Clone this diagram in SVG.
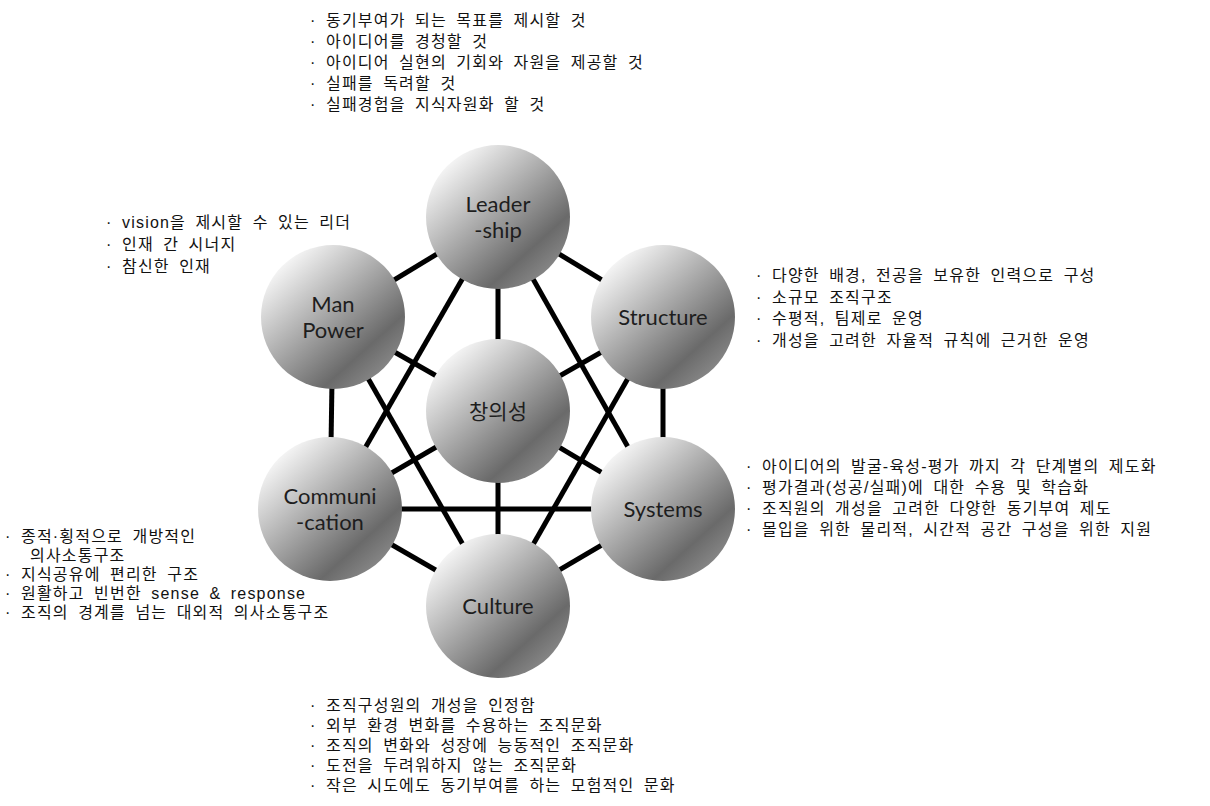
<svg xmlns="http://www.w3.org/2000/svg" width="1210" height="806" viewBox="0 0 1210 806">
<defs>
<linearGradient id="ball" x1="0.12" y1="0.08" x2="0.88" y2="0.92">
<stop offset="0" stop-color="#ffffff"/>
<stop offset="0.45" stop-color="#a9a9a9"/>
<stop offset="0.78" stop-color="#6a6a6a"/>
<stop offset="1" stop-color="#8e8e8e"/>
</linearGradient>
<style>
.ball{fill:url(#ball);}
.lbl{font-family:Lato,"Liberation Sans","Noto Sans CJK KR",sans-serif;font-size:22px;fill:#1e1e1e;text-anchor:middle;}
.klbl{font-family:"Liberation Sans","Noto Sans CJK KR",sans-serif;font-size:21px;fill:#1e1e1e;text-anchor:middle;}
.note{font-family:"Liberation Sans","Noto Sans CJK KR",sans-serif;font-size:16px;fill:#111;letter-spacing:1.2px;word-spacing:3.8px;}
.edge{stroke:#000;stroke-width:5;fill:none;}
</style>
</defs>
<rect width="1210" height="806" fill="#fff"/>
<g id="connectors" class="edge">
<line x1="498" y1="217" x2="333" y2="317"/>
<line x1="498" y1="217" x2="663" y2="317"/>
<line x1="498" y1="217" x2="498" y2="411"/>
<line x1="498" y1="217" x2="330" y2="509"/>
<line x1="498" y1="217" x2="663" y2="509"/>
<line x1="333" y1="317" x2="330" y2="509"/>
<line x1="333" y1="317" x2="498" y2="411"/>
<line x1="333" y1="317" x2="498" y2="606"/>
<line x1="663" y1="317" x2="663" y2="509"/>
<line x1="663" y1="317" x2="498" y2="411"/>
<line x1="663" y1="317" x2="498" y2="606"/>
<line x1="330" y1="509" x2="498" y2="411"/>
<line x1="663" y1="509" x2="498" y2="411"/>
<line x1="498" y1="606" x2="498" y2="411"/>
<line x1="330" y1="509" x2="663" y2="509"/>
<line x1="330" y1="509" x2="498" y2="606"/>
<line x1="663" y1="509" x2="498" y2="606"/>
</g>
<g id="leadership">
<circle class="ball" cx="498" cy="217" r="72"/>
<text class="lbl" x="498" y="212">Leader</text>
<text class="lbl" x="498" y="238">-ship</text>
</g>
<g id="manpower">
<circle class="ball" cx="333" cy="317" r="72"/>
<text class="lbl" x="333" y="312">Man</text>
<text class="lbl" x="333" y="338">Power</text>
</g>
<g id="structure">
<circle class="ball" cx="663" cy="317" r="72"/>
<text class="lbl" x="663" y="325">Structure</text>
</g>
<g id="creativity">
<circle class="ball" cx="498" cy="411" r="72"/>
<text class="klbl" x="498" y="419">창의성</text>
</g>
<g id="communication">
<circle class="ball" cx="330" cy="509" r="72"/>
<text class="lbl" x="330" y="504">Communi</text>
<text class="lbl" x="330" y="530">-cation</text>
</g>
<g id="systems">
<circle class="ball" cx="663" cy="509" r="72"/>
<text class="lbl" x="663" y="517">Systems</text>
</g>
<g id="culture">
<circle class="ball" cx="498" cy="606" r="72"/>
<text class="lbl" x="498" y="614">Culture</text>
</g>
<g id="note-leadership" class="note">
<text x="310" y="26">· 동기부여가 되는 목표를 제시할 것</text>
<text x="310" y="47">· 아이디어를 경청할 것</text>
<text x="310" y="68">· 아이디어 실현의 기회와 자원을 제공할 것</text>
<text x="310" y="89">· 실패를 독려할 것</text>
<text x="310" y="110">· 실패경험을 지식자원화 할 것</text>
</g>
<g id="note-manpower" class="note">
<text x="106" y="228">· vision을 제시할 수 있는 리더</text>
<text x="106" y="250">· 인재 간 시너지</text>
<text x="106" y="272">· 참신한 인재</text>
</g>
<g id="note-structure" class="note">
<text x="756" y="281">· 다양한 배경, 전공을 보유한 인력으로 구성</text>
<text x="756" y="303">· 소규모 조직구조</text>
<text x="756" y="324">· 수평적, 팀제로 운영</text>
<text x="756" y="346">· 개성을 고려한 자율적 규칙에 근거한 운영</text>
</g>
<g id="note-systems" class="note">
<text x="746" y="472">· 아이디어의 발굴-육성-평가 까지 각 단계별의 제도화</text>
<text x="746" y="493">· 평가결과(성공/실패)에 대한 수용 및 학습화</text>
<text x="746" y="514">· 조직원의 개성을 고려한 다양한 동기부여 제도</text>
<text x="746" y="535">· 몰입을 위한 물리적, 시간적 공간 구성을 위한 지원</text>
</g>
<g id="note-communication" class="note">
<text x="5" y="542">· 종적·횡적으로 개방적인</text>
<text x="30" y="561">의사소통구조</text>
<text x="5" y="580">· 지식공유에 편리한 구조</text>
<text x="5" y="599">· 원활하고 빈번한 sense &amp; response</text>
<text x="5" y="618">· 조직의 경계를 넘는 대외적 의사소통구조</text>
</g>
<g id="note-culture" class="note">
<text x="310" y="711">· 조직구성원의 개성을 인정함</text>
<text x="310" y="731">· 외부 환경 변화를 수용하는 조직문화</text>
<text x="310" y="751">· 조직의 변화와 성장에 능동적인 조직문화</text>
<text x="310" y="771">· 도전을 두려워하지 않는 조직문화</text>
<text x="310" y="791">· 작은 시도에도 동기부여를 하는 모험적인 문화</text>
</g>
</svg>
